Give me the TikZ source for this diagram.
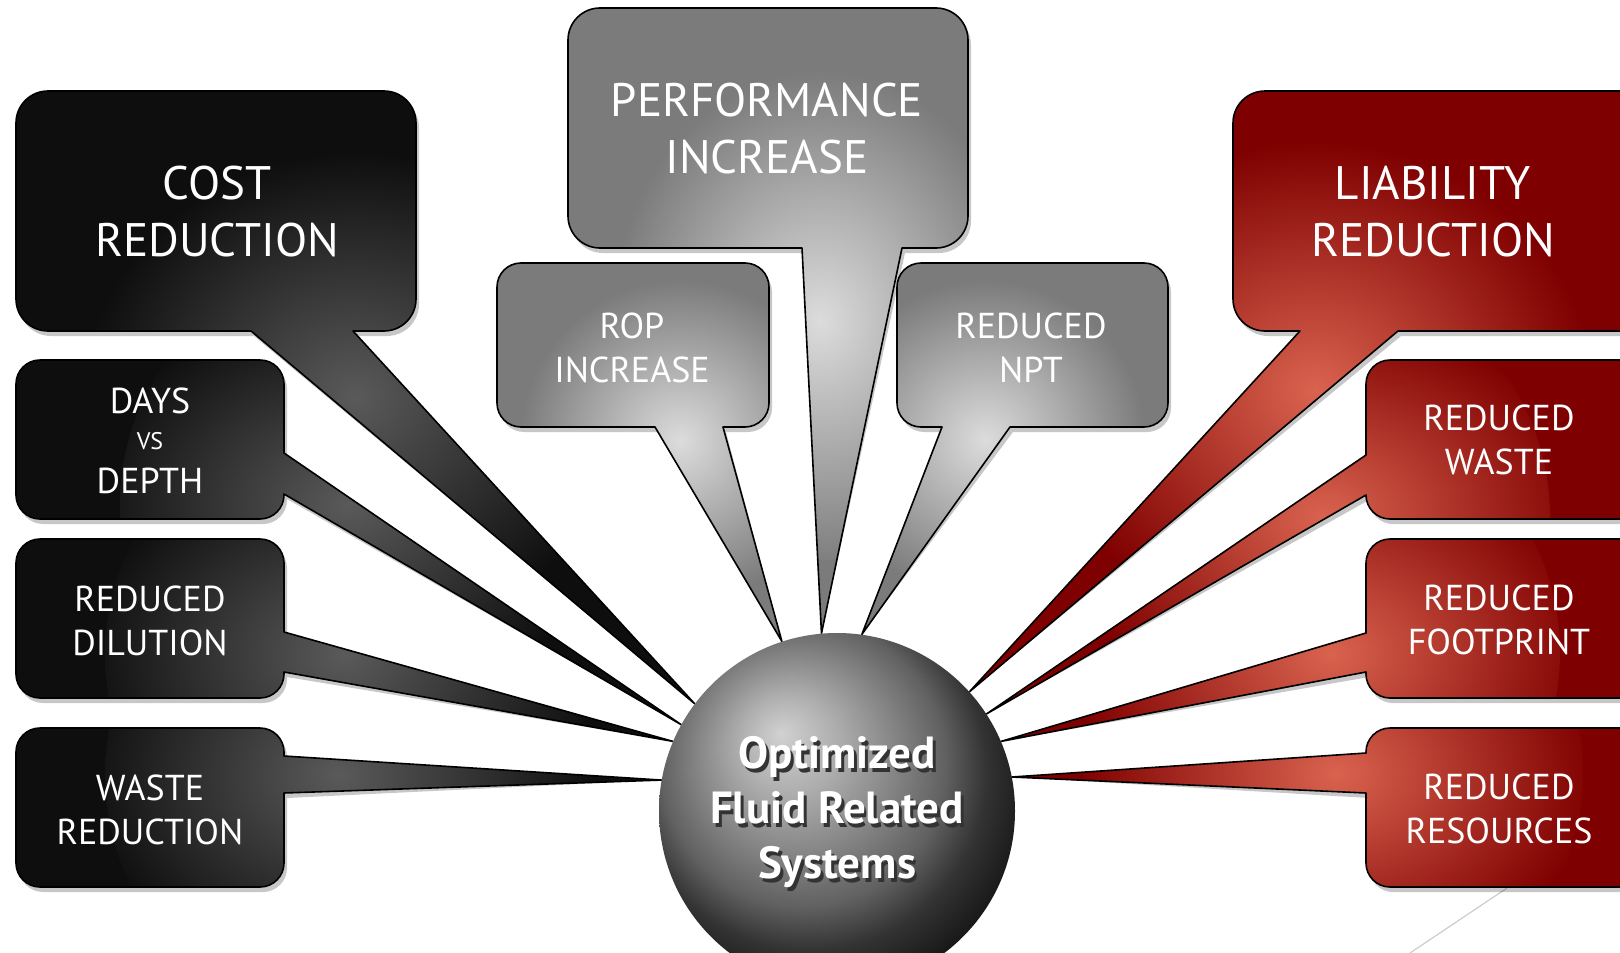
\documentclass[tikz,border=0pt]{standalone}
\usepackage{fontspec}
\setmainfont{PT Sans}
\usetikzlibrary{calc, backgrounds}

\definecolor{inkblack}{HTML}{0E0E0E}
\definecolor{glowblack}{HTML}{5A5A5A}
\definecolor{inkgray}{HTML}{7B7B7B}
\definecolor{glowgray}{HTML}{DCDCDC}
\definecolor{inkred}{HTML}{7F0000}
\definecolor{glowred}{HTML}{D9634F}

\pgfdeclareradialshading{hubshade}{\pgfpoint{-8bp}{11bp}}{%
  color(0bp)=(black!18); color(7bp)=(black!32); color(14bp)=(black!48);
  color(20bp)=(black!62); color(25bp)=(black!80); color(30bp)=(black!90); color(50bp)=(black!90)}
\pgfdeclareradialshading{blackglow}{\pgfpointorigin}{%
  color(0bp)=(glowblack); color(7bp)=(glowblack!65!inkblack);
  color(20bp)=(inkblack); color(50bp)=(inkblack)}
\pgfdeclareradialshading{grayglow}{\pgfpointorigin}{%
  color(0bp)=(glowgray); color(7bp)=(glowgray!65!inkgray);
  color(20bp)=(inkgray); color(50bp)=(inkgray)}
\pgfdeclareradialshading{redglow}{\pgfpointorigin}{%
  color(0bp)=(glowred); color(7bp)=(glowred!65!inkred);
  color(20bp)=(inkred); color(50bp)=(inkred)}

% bubble outlines: #1 left, #2 top, #3 right, #4 bottom, #5 corner,
% #6 #7 where the tail leaves the box, #8 tip of the tail
\newcommand{\bubbleS}[8]{(#1,#2+#5) arc[start angle=180,end angle=270,radius=#5]
  -- (#3-#5,#2) arc[start angle=270,end angle=360,radius=#5]
  -- (#3,#4-#5) arc[start angle=0,end angle=90,radius=#5]
  -- (#7,#4) -- (#8) -- (#6,#4)
  -- (#1+#5,#4) arc[start angle=90,end angle=180,radius=#5] -- cycle}
\newcommand{\bubbleE}[8]{(#1,#2+#5) arc[start angle=180,end angle=270,radius=#5]
  -- (#3-#5,#2) arc[start angle=270,end angle=360,radius=#5]
  -- (#3,#6) -- (#8) -- (#3,#7)
  -- (#3,#4-#5) arc[start angle=0,end angle=90,radius=#5]
  -- (#1+#5,#4) arc[start angle=90,end angle=180,radius=#5] -- cycle}
\newcommand{\bubbleW}[8]{(#1,#2+#5) arc[start angle=180,end angle=270,radius=#5]
  -- (#3-#5,#2) arc[start angle=270,end angle=360,radius=#5]
  -- (#3,#4-#5) arc[start angle=0,end angle=90,radius=#5]
  -- (#1+#5,#4) arc[start angle=90,end angle=180,radius=#5]
  -- (#1,#7) -- (#8) -- (#1,#6) -- cycle}

% shadow, glowing fill and outline of one bubble
\newcommand{\drawcallout}[3]{%
  \fill[black, opacity=.22, shift={(3,5)}] #3;
  \path[fill=ink#1, draw=black, line width=1.6pt, line join=round,
        path picture={\shade[shading=#1glow] #2;}] #3;}

% white text with a dark drop shadow
\newcommand{\shadowed}[1]{\makebox[0pt][l]{\hspace{3pt}\raisebox{-4pt}{\textcolor{black!80}{#1}}}#1}

\begin{document}
\begin{tikzpicture}[x=1pt, y=-1pt,
    boxtext/.style={text=white, align=center, inner sep=0pt},
    bigtext/.style={boxtext, font=\fontsize{47}{57}\selectfont},
    smalltext/.style={boxtext, font=\fontsize{36}{44}\selectfont},
    hubtext/.style={align=center, inner sep=0pt, text=white,
                    font=\bfseries\fontsize{45}{55}\selectfont}]

    \useasboundingbox (0,0) rectangle (1620,953);

    % Hub
    \node[circle, minimum size=356pt, inner sep=0pt, shade, shading=hubshade] (hub) at (837,811) {};
    \node[hubtext] (hublabel) at ($(hub)+(0,3)$) {\shadowed{Optimized}\\\shadowed{Fluid Related}\\\shadowed{Systems}};

    % Labels
    \node[bigtext] (cost) at (217,212) {COST\\REDUCTION};
    \node[smalltext] (days) at (150,441) {DAYS\\[-8pt]{\fontsize{24}{26}\selectfont VS}\\DEPTH};
    \node[smalltext] (dilution) at (150,621) {REDUCED\\DILUTION};
    \node[smalltext] (waste) at (150,810) {WASTE\\REDUCTION};
    \node[bigtext] (perf) at (767,129) {PERFORMANCE\\INCREASE};
    \node[smalltext] (rop) at (632,348) {ROP\\INCREASE};
    \node[smalltext] (npt) at (1031,348) {REDUCED\\NPT};
    \node[bigtext] (liability) at (1433,212) {LIABILITY\\REDUCTION};
    \node[smalltext] (rwaste) at (1499,440) {REDUCED\\WASTE};
    \node[smalltext] (footprint) at (1499,620) {REDUCED\\FOOTPRINT};
    \node[smalltext] (resources) at (1499,809) {REDUCED\\RESOURCES};

    \coordinate (strayA) at (1507,888);
    \coordinate (strayB) at (1410,953);

    % Callouts
    \begin{scope}[on background layer]
        \draw[black!20, line width=1.2pt] (strayA) -- (strayB);
        \drawcallout{black}{(360,397) circle[radius=300]}{\bubbleS{16}{91}{416}{331}{32}{251}{353}{hub.143}}
        \drawcallout{black}{(370,505) circle[radius=250]}{\bubbleE{16}{360}{284}{519}{24}{453}{494}{hub.151}}
        \drawcallout{black}{(355,655) circle[radius=250]}{\bubbleE{16}{539}{284}{698}{24}{632}{672}{hub.157}}
        \drawcallout{black}{(355,775) circle[radius=250]}{\bubbleE{16}{728}{284}{887}{24}{756}{793}{hub.170}}
        \drawcallout{gray}{(820,300) circle[radius=260]}{\bubbleS{568}{8}{968}{248}{32}{802}{902}{hub.95}}
        \drawcallout{gray}{(680,440) circle[radius=200]}{\bubbleS{497}{263}{769}{427}{24}{655}{723}{hub.108}}
        \drawcallout{gray}{(985,440) circle[radius=200]}{\bubbleS{897}{263}{1168}{427}{24}{942}{1010}{hub.82}}
        \drawcallout{red}{(1297,390) circle[radius=310]}{\bubbleS{1233}{91}{1660}{331}{32}{1300}{1398}{hub.42}}
        \drawcallout{red}{(1300,517) circle[radius=250]}{\bubbleW{1366}{360}{1660}{519}{24}{455}{495}{hub.33}}
        \drawcallout{red}{(1310,653) circle[radius=250]}{\bubbleW{1366}{539}{1660}{698}{24}{633}{672}{hub.23}}
        \drawcallout{red}{(1333,773) circle[radius=250]}{\bubbleW{1366}{728}{1660}{887}{24}{753}{793}{hub.11}}
    \end{scope}
\end{tikzpicture}
\end{document}
